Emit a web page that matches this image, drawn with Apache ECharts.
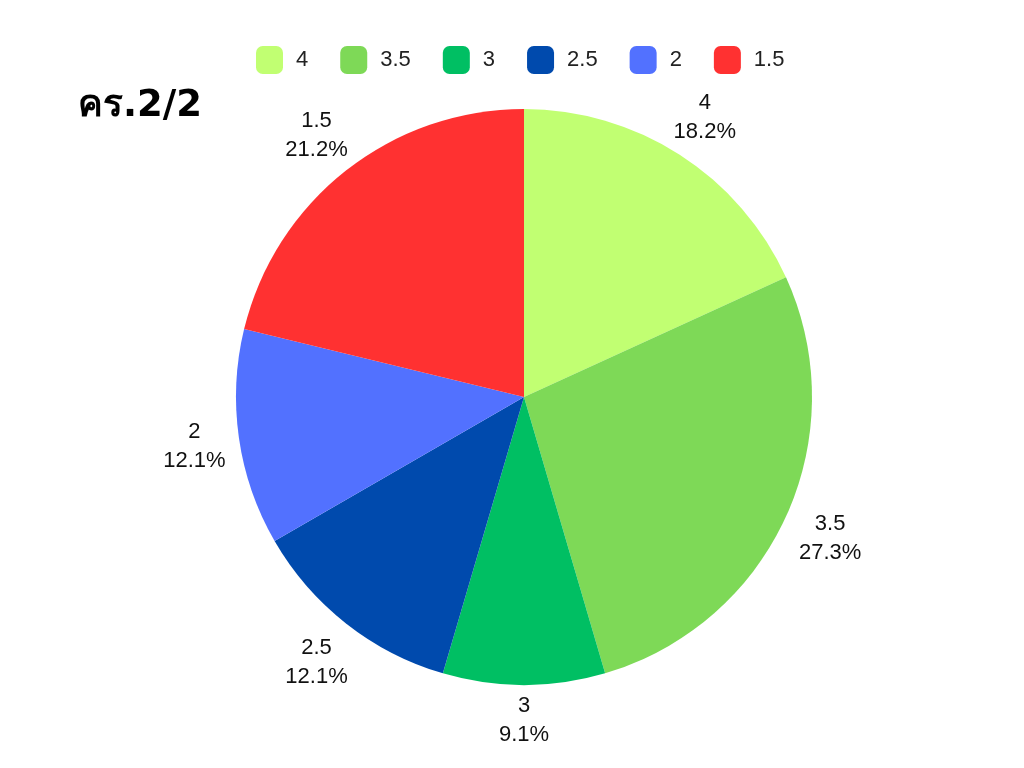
<!DOCTYPE html>
<html><head><meta charset="utf-8">
<script src="https://cdn.jsdelivr.net/npm/echarts@6/dist/echarts.min.js"></script>
<style>html,body{margin:0;padding:0;background:#fff}#c{width:1024px;height:768px}</style>
</head><body><div id="c"></div>
<script>
const categories = ['4', '3.5', '3', '2.5', '2', '1.5'];
const counts = [6, 9, 3, 4, 4, 7];
const colors = ['#c1ff72', '#7ed957', '#00bf63', '#004aad', '#5271ff', '#ff3131'];
const titleText = 'คร.2/2';

const CX = 524, CY = 397, R = 288;
const total = counts.reduce((a, b) => a + b, 0);
function midAngle(i) {
  let s = 0;
  for (let k = 0; k < i; k++) s += counts[k];
  return (s + counts[i] / 2) / total * Math.PI * 2; // clockwise from top
}

const data = categories.map((c, i) => ({ name: c, value: counts[i], itemStyle: { color: colors[i] } }));
const font = "'Liberation Sans', Arial, sans-serif";
const chart = echarts.init(document.getElementById('c'));
chart.setOption({
  animation: false,
  title: { text: titleText, left: 73, top: 83, textStyle: { fontSize: 37, fontWeight: 'bold', color: '#000', fontFamily: "'DejaVu Sans', sans-serif" } },
  legend: {
    top: 41, left: 251, itemWidth: 27, itemHeight: 28, itemGap: 32, icon: 'roundRect',
    textStyle: { fontSize: 22, color: '#222', fontFamily: font, padding: [0, 0, 0, 8] },
    data: categories
  },
  series: [
    {
      type: 'pie', center: [CX, CY], radius: [0, R], startAngle: 90, clockwise: true,
      silent: true,
      itemStyle: { borderWidth: 0 },
      label: {
        show: true, position: 'outside', fontSize: 22, lineHeight: 29, color: '#111', fontFamily: font,
        align: 'center', verticalAlign: 'middle',
        formatter: p => p.name + '\n' + p.percent.toFixed(1) + '%'
      },
      labelLine: { show: false },
      labelLayout: function (p) {
        const a = midAngle(p.dataIndex);
        const s = Math.sin(a), c = Math.cos(a);
        const halfW = p.labelRect.width / 2, halfH = 22;
        const d = R + 11 + halfW * Math.abs(s) + halfH * Math.abs(c);
        return { x: CX + d * s, y: CY - d * c + 2, align: 'center', verticalAlign: 'middle' };
      },
      data: data
    }
  ]
});
</script></body></html>
